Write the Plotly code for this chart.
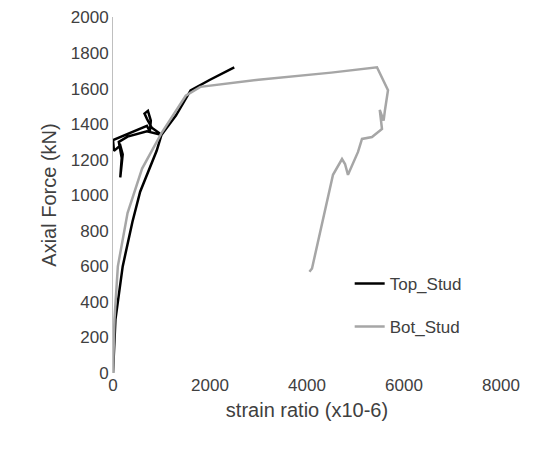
import plotly.graph_objects as go

top_x = [0, 50, 200, 400, 560, 900, 1000, 800, 700, 650, 720, 780, 760, 700, 0, 20, 150, 200, 150, 180, 120, 300, 700, 1000, 1300, 1600, 2000, 2500]
top_y = [0, 300, 600, 850, 1020, 1250, 1340, 1380, 1430, 1460, 1475, 1420, 1360, 1390, 1310, 1250, 1280, 1230, 1100, 1210, 1300, 1330, 1360, 1340, 1450, 1590, 1650, 1720]
bot_x = [0, 30, 100, 300, 600, 1000, 1500, 1800, 3000, 4500, 5443, 5670, 5608, 5580, 5500, 5546, 5340, 5134, 5052, 4845, 4784, 4722, 4536, 4103, 4050]
bot_y = [0, 300, 600, 900, 1150, 1350, 1560, 1610, 1650, 1690, 1720, 1591, 1480, 1420, 1480, 1373, 1328, 1317, 1244, 1115, 1176, 1204, 1115, 588, 570]
y_ticks = list(range(0, 2001, 200))

fig = go.Figure()
fig.add_trace(go.Scatter(x=top_x, y=top_y, mode="lines", name="Top_Stud", legendgroup="a",
                         line=dict(color="black", width=2.5)))
fig.add_trace(go.Scatter(x=bot_x, y=bot_y, mode="lines", name="Bot_Stud", legendgroup="b",
                         line=dict(color="#a6a6a6", width=2.5)))
fig.update_layout(
    width=540, height=460, plot_bgcolor="white", paper_bgcolor="white",
    margin=dict(l=105, r=47, t=0, b=95),
    font=dict(family="Liberation Sans, Arial", size=17, color="#404040"),
    legend=dict(x=0.61, y=0.19, xanchor="left", yanchor="middle",
                font=dict(size=17, color="#404040"), tracegroupgap=18,
                bgcolor="rgba(0,0,0,0)"),
    xaxis=dict(range=[0, 8000], dtick=2000, showgrid=False, zeroline=False,
               showline=False, ticks="",
               title=dict(text="strain ratio (x10-6)", standoff=8)),
    yaxis=dict(range=[0, 2003], tickvals=y_ticks, showgrid=False, zeroline=False,
               showline=True, linecolor="#bfbfbf", linewidth=1, ticks="",
               ticklabeloverflow="allow",
               title=dict(text="Axial Force (kN)", standoff=8)),
)
fig.write_html("out.html")
